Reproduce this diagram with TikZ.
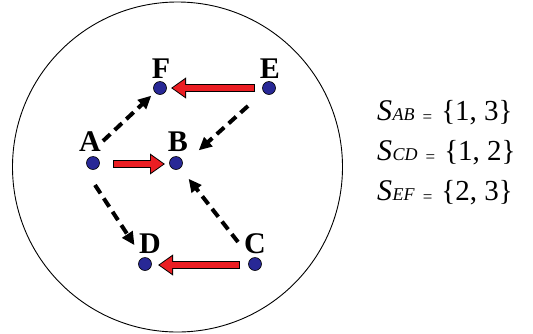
\documentclass[tikz,border=0pt]{standalone}
\usepackage{fontspec}
\setmainfont{Liberation Serif}
\usetikzlibrary{arrows.meta}
\definecolor{dotblue}{RGB}{40,40,150}
\definecolor{arrred}{RGB}{235,30,35}
\tikzset{
  dot/.style={circle, fill=dotblue, draw=black, line width=0.6pt, inner sep=0pt, minimum size=13pt},
  lab/.style={font=\fontsize{30}{30}\selectfont\bfseries, inner sep=0pt, anchor=base},
  dasharrow/.style={line width=4pt, dash pattern=on 10pt off 6pt, -{Triangle[length=13pt,width=12pt]}, shorten >=1pt},
  redout/.style={line width=7.5pt, black, -{Triangle[length=15pt,width=20pt]}},
  redin/.style={line width=5.5pt, arrred, -{Triangle[length=12.5pt,width=16.5pt]}},
  seq/.style={font=\fontsize{29}{29}\selectfont, inner sep=0pt, anchor=base west}
}
\newcommand{\setline}[2]{{\fontsize{30}{30}\selectfont\textit{S}}\kern0.5pt{\fontsize{18}{18}\selectfont\textit{#1}}\kern8pt\raisebox{-2pt}{\fontsize{17}{17}\selectfont=}\kern9pt\{#2\}}
\begin{document}
\begin{tikzpicture}[x=1pt,y=-1pt]
\useasboundingbox (0,0) rectangle (533,333);
\node[draw=black, line width=0.9pt, circle, minimum size=330pt, inner sep=0pt] (ring) at (177.5,167) {};
% dots
\node[dot] (F) at (160,88) {};
\node[dot] (E) at (269,88) {};
\node[dot] (A) at (93,163) {};
\node[dot] (B) at (176,163) {};
\node[dot] (D) at (145,264) {};
\node[dot] (C) at (255,264) {};
% labels
\node[lab] (lF) at (161,78) {F};
\node[lab] (lE) at (270,78) {E};
\node[lab] (lA) at (90,151) {A};
\node[lab] (lB) at (178,151) {B};
\node[lab] (lD) at (150,253) {D};
\node[lab] (lC) at (255,253) {C};
% coordinates for arrow ends
\coordinate (EFs) at (255,88);
\coordinate (EFe) at (171,88);
\coordinate (ABs) at (113,164);
\coordinate (ABe) at (165,164);
\coordinate (CDs) at (240,265);
\coordinate (CDe) at (158,265);
% red arrows
\draw[redout] (EFs) -- (EFe);
\draw[redout] (ABs) -- (ABe);
\draw[redout] (CDs) -- (CDe);
\draw[redin, shorten <=0.9pt, shorten >=1.6pt] (EFs) -- (EFe);
\draw[redin, shorten <=0.9pt, shorten >=1.6pt] (ABs) -- (ABe);
\draw[redin, shorten <=0.9pt, shorten >=1.6pt] (CDs) -- (CDe);
% dashed arrows
\coordinate (AFs) at (103,141);
\coordinate (AFe) at (152,95);
\coordinate (EBs) at (248,106);
\coordinate (EBe) at (198,151);
\coordinate (ADs) at (95,185);
\coordinate (ADe) at (135,246);
\coordinate (CBs) at (238,242);
\coordinate (CBe) at (188,178);
\draw[dasharrow] (AFs) -- (AFe);
\draw[dasharrow] (EBs) -- (EBe);
\draw[dasharrow] (ADs) -- (ADe);
\draw[dasharrow] (CBs) -- (CBe);
% sets
\node[seq] (sab) at (377,120) {\setline{AB}{1, 3}};
\node[seq] (scd) at (377,160) {\setline{CD}{1, 2}};
\node[seq] (sef) at (377,200) {\setline{EF}{2, 3}};
\end{tikzpicture}
\end{document}
